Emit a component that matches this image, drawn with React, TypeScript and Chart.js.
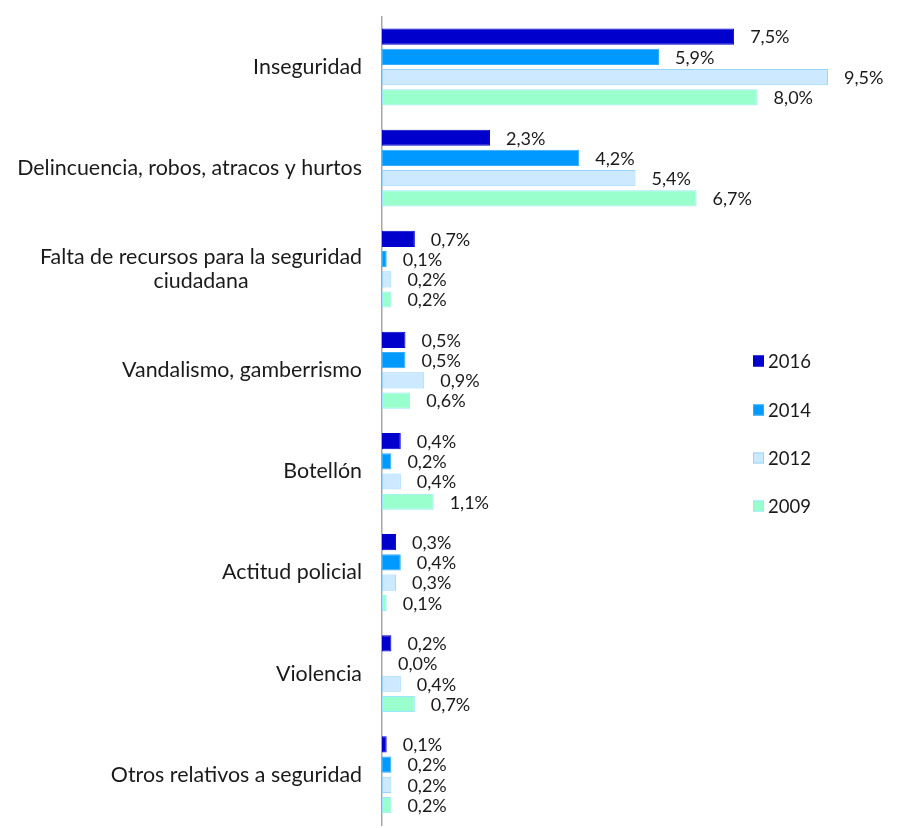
import React, { useEffect, useRef } from "react";
import { Chart, registerables } from "chart.js";

Chart.register(...registerables);

const categories: string[][] = [
  ["Inseguridad"],
  ["Delincuencia, robos, atracos y hurtos"],
  ["Falta de recursos para la seguridad", "ciudadana"],
  ["Vandalismo, gamberrismo"],
  ["Botellón"],
  ["Actitud policial"],
  ["Violencia"],
  ["Otros relativos a seguridad"],
];

const seriesNames = ["2016", "2014", "2012", "2009"];
const values2016 = [7.5, 2.3, 0.7, 0.5, 0.4, 0.3, 0.2, 0.1];
const values2014 = [5.9, 4.2, 0.1, 0.5, 0.2, 0.4, 0.0, 0.2];
const values2012 = [9.5, 5.4, 0.2, 0.9, 0.4, 0.3, 0.4, 0.2];
const values2009 = [8.0, 6.7, 0.2, 0.6, 1.1, 0.1, 0.7, 0.2];

const fills = ["#0000CC", "#0099FF", "#CCE9FF", "#99FFCC"];
const borders = ["#0000CC", "#33ADFF", "#99D3FF", "#99E8FF"];

const FONT = "Lato, 'Noto Sans', sans-serif";
const TEXT = "#1a1a1a";

const fmt = (v: number) => v.toFixed(1).replace(".", ",") + "%";

const overlayPlugin = {
  id: "overlay",
  afterDraw(chart: any) {
    const ctx = chart.ctx;
    const yScale = chart.scales.y;
    ctx.save();
    // category labels
    ctx.font = `21.4px ${FONT}`;
    ctx.fillStyle = TEXT;
    ctx.textBaseline = "middle";
    const lh = 24;
    categories.forEach((lines, i) => {
      const cy = yScale.getPixelForValue(i);
      const rightX = chart.chartArea.left - 20;
      const w0 = ctx.measureText(lines[0]).width;
      const centerX = rightX - w0 / 2;
      lines.forEach((ln, j) => {
        const y = cy + (j - (lines.length - 1) / 2) * lh;
        if (j === 0) {
          ctx.textAlign = "right";
          ctx.fillText(ln, rightX, y);
        } else {
          ctx.textAlign = "center";
          ctx.fillText(ln, centerX, y);
        }
      });
    });
    // value labels
    ctx.font = `18px ${FONT}`;
    ctx.textAlign = "left";
    chart.data.datasets.forEach((ds: any, di: number) => {
      const meta = chart.getDatasetMeta(di);
      meta.data.forEach((el: any, i: number) => {
        ctx.fillText(fmt(ds.data[i]), el.x + 16, el.y + 1);
      });
    });
    // legend
    const lx = 753;
    const ly = [361, 410, 458, 506];
    ctx.font = `18.5px ${FONT}`;
    chart.data.datasets.forEach((ds: any, di: number) => {
      const y = ly[di];
      ctx.fillStyle = ds.backgroundColor;
      ctx.fillRect(lx, y - 5.5, 11, 11);
      ctx.strokeStyle = ds.borderColor;
      ctx.lineWidth = 1;
      ctx.strokeRect(lx + 0.5, y - 5, 10, 10);
      ctx.fillStyle = TEXT;
      ctx.textAlign = "left";
      ctx.fillText(ds.label, lx + 15, y + 1);
    });
    ctx.restore();
  },
};

export default function App() {
  const ref = useRef<HTMLCanvasElement | null>(null);
  useEffect(() => {
    if (!ref.current) return;
    const data = [values2016, values2014, values2012, values2009];
    const chart = new Chart(ref.current, {
      type: "bar",
      data: {
        labels: categories.map((c) => c.join(" ")),
        datasets: seriesNames.map((name, i) => ({
          label: name,
          data: data[i],
          backgroundColor: fills[i],
          borderColor: borders[i],
          borderWidth: 1,
          borderSkipped: false,
          barPercentage: 0.8,
          categoryPercentage: 0.8,
        })),
      },
      options: {
        indexAxis: "y",
        animation: false,
        responsive: false,
        layout: { padding: { left: 0, top: 16.4, right: 51.5, bottom: 2.7 } },
        plugins: { legend: { display: false }, tooltip: { enabled: false } },
        scales: {
          x: { display: false, min: 0, max: 10 },
          y: {
            grid: { display: false, drawTicks: false },
            border: { display: true, color: "#A6A6A6", width: 1.5 },
            ticks: { display: false },
            afterFit: (s: any) => {
              s.width = 382;
            },
          },
        },
      },
      plugins: [overlayPlugin],
    } as any);
    return () => chart.destroy();
  }, []);
  return (
    <div style={{ position: "absolute", left: 0, top: 0, width: 903, height: 828 }}>
      <canvas ref={ref} width={903} height={828} style={{ display: "block" }} />
    </div>
  );
}
